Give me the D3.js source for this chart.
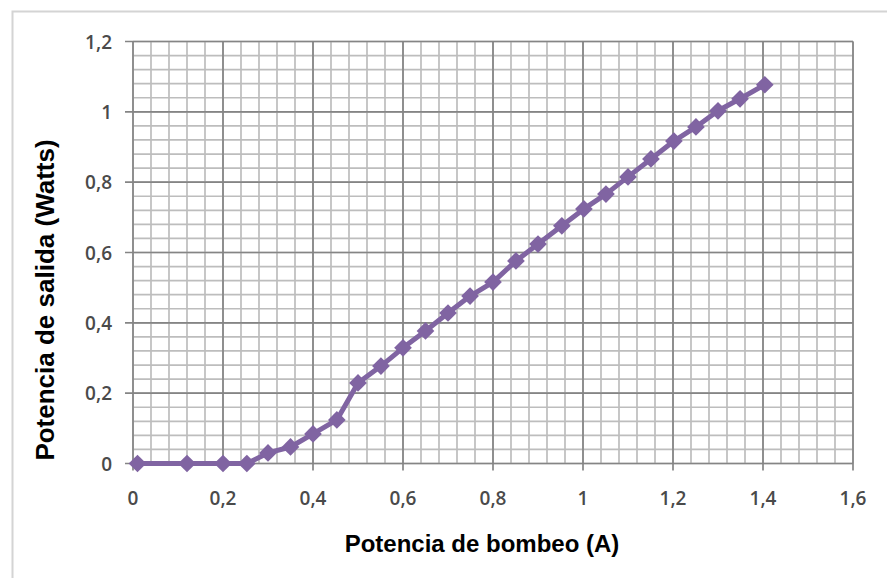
<!DOCTYPE html>
<html><head><meta charset="utf-8">
<script src="https://cdn.jsdelivr.net/npm/d3@7"></script>
<style>body{margin:0;background:#fff}svg{display:block}</style>
</head><body><svg id="c" width="887" height="578"></svg>
<script>
const xValues = [0.01, 0.12, 0.2, 0.253, 0.3, 0.35, 0.4, 0.453, 0.5, 0.551, 0.6, 0.65, 0.7, 0.749, 0.8, 0.851, 0.9, 0.953, 1.002, 1.051, 1.1, 1.151, 1.202, 1.251, 1.3, 1.349, 1.404];
const yValues = [0, 0, 0, 0, 0.03, 0.047, 0.084, 0.124, 0.229, 0.277, 0.329, 0.377, 0.428, 0.476, 0.516, 0.576, 0.624, 0.676, 0.724, 0.766, 0.815, 0.866, 0.917, 0.957, 1.003, 1.037, 1.077];
const xTicks = [0, 0.2, 0.4, 0.6, 0.8, 1, 1.2, 1.4, 1.6];
const yTicks = [0, 0.2, 0.4, 0.6, 0.8, 1, 1.2];
const xTitle = "Potencia de bombeo (A)";
const yTitle = "Potencia de salida (Watts)";

const svg = d3.select("#c");
const L = 133, R = 853, T = 41.5, B = 463.5;
const x = d3.scaleLinear().domain([0, 1.6]).range([L, R]);
const y = d3.scaleLinear().domain([0, 1.2]).range([B, T]);
const fmt = d => String(+d.toFixed(1)).replace(".", ",");

// outer frame
svg.append("path").attr("d", "M12.5,578 V11.5 H887").attr("fill", "none").attr("stroke", "#d4d4d4").attr("stroke-width", 2);

// minor grid
const minorX = d3.range(0, 1.6001, 0.04).map(v => +v.toFixed(2));
const minorY = d3.range(0, 1.2001, 0.04).map(v => +v.toFixed(2));
const g = svg.append("g");
g.selectAll(".mx").data(minorX).join("line")
  .attr("x1", d => x(d)).attr("x2", d => x(d)).attr("y1", T).attr("y2", B)
  .attr("stroke", "#bdbdbd").attr("stroke-width", 1.7);
g.selectAll(".my").data(minorY).join("line")
  .attr("y1", d => y(d)).attr("y2", d => y(d)).attr("x1", L).attr("x2", R)
  .attr("stroke", "#bdbdbd").attr("stroke-width", 1.7);
// major grid
g.selectAll(".Mx").data(xTicks).join("line")
  .attr("x1", d => x(d)).attr("x2", d => x(d)).attr("y1", T).attr("y2", B + 7)
  .attr("stroke", "#858585").attr("stroke-width", 1.7);
g.selectAll(".My").data(yTicks).join("line")
  .attr("y1", d => y(d)).attr("y2", d => y(d)).attr("x1", L - 8).attr("x2", R)
  .attr("stroke", "#858585").attr("stroke-width", 1.7);

// tick labels
svg.append("g").selectAll("text").data(yTicks).join("text")
  .attr("x", 112).attr("y", d => y(d) + 7).attr("text-anchor", "end")
  .attr("font-family", "Open Sans, sans-serif").attr("font-size", 19).attr("font-weight", 600)
  .attr("fill", "#4a4a4a").text(fmt);
svg.append("g").selectAll("text").data(xTicks).join("text")
  .attr("x", d => x(d)).attr("y", 505).attr("text-anchor", "middle")
  .attr("font-family", "Open Sans, sans-serif").attr("font-size", 19).attr("font-weight", 600)
  .attr("fill", "#4a4a4a").text(fmt);

// titles
svg.append("text").attr("x", 482).attr("y", 552).attr("text-anchor", "middle")
  .attr("font-family", "Liberation Sans, Arial, sans-serif").attr("font-weight", "bold").attr("font-size", 24)
  .attr("fill", "#000").text(xTitle);
svg.append("text").attr("transform", "translate(54,300) rotate(-90)").attr("text-anchor", "middle")
  .attr("font-family", "Liberation Sans, Arial, sans-serif").attr("font-weight", "bold").attr("font-size", 26)
  .attr("fill", "#000").text(yTitle);

// series
const data = xValues.map((v, i) => [v, yValues[i]]);
const color = "#8064A2";
svg.append("path").datum(data)
  .attr("d", d3.line().x(d => x(d[0])).y(d => y(d[1])))
  .attr("fill", "none").attr("stroke", color).attr("stroke-width", 5).attr("stroke-linejoin", "round");
svg.append("g").selectAll("path").data(data).join("path")
  .attr("transform", d => `translate(${x(d[0])},${y(d[1])})`)
  .attr("d", d3.symbol(d3.symbolDiamond2, 200)())
  .attr("fill", color);
</script></body></html>
